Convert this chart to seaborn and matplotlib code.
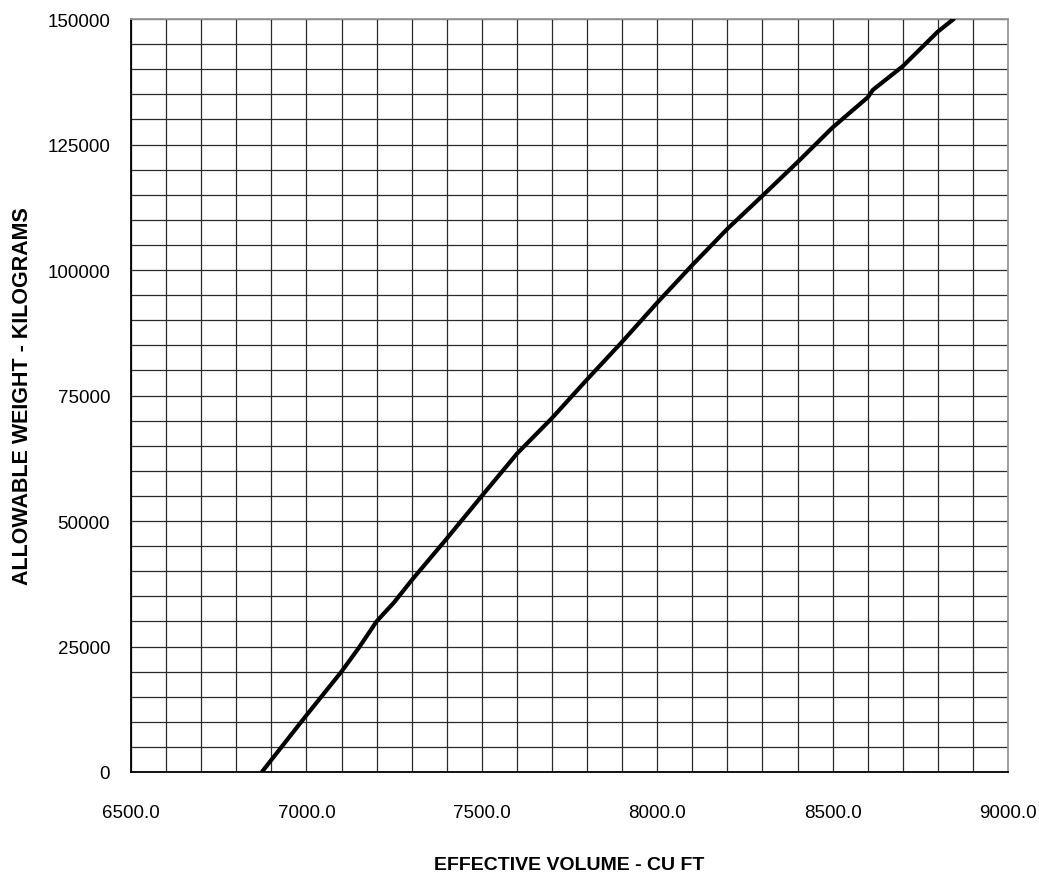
import matplotlib
matplotlib.use("Agg")
import matplotlib.pyplot as plt
from matplotlib.ticker import MultipleLocator, FormatStrFormatter
import numpy as np
import pandas as pd
import seaborn as sns

# Allowable weight vs. effective volume curve
volume_cuft = [6873, 7000, 7100, 7150, 7200, 7250, 7300, 7400, 7500, 7600,
               7700, 7800, 7900, 8000, 8100, 8200, 8300, 8400, 8500, 8600,
               8615, 8700, 8800, 8845]
weight_kg = [0, 11300, 20000, 24800, 30000, 33800, 38200, 46500, 55000, 63400,
             70500, 78200, 85700, 93500, 101000, 108200, 114800, 121500, 128400, 134400,
             135900, 140600, 147500, 150000]

x_label = "EFFECTIVE VOLUME - CU FT"
y_label = "ALLOWABLE WEIGHT - KILOGRAMS"

sns.set_style("white")
plt.rcParams["font.family"] = ["Liberation Sans", "DejaVu Sans"]
plt.rcParams["text.color"] = "black"
plt.rcParams["axes.labelcolor"] = "black"
plt.rcParams["xtick.color"] = "black"
plt.rcParams["ytick.color"] = "black"

df = pd.DataFrame({"volume": volume_cuft, "weight": weight_kg})

fig = plt.figure(figsize=(10.39, 8.79), dpi=100)
ax = fig.add_axes([0.1261, 0.1206, 0.8441, 0.8566])

sns.lineplot(data=df, x="volume", y="weight", ax=ax, color="black",
             linewidth=3.0, sort=False, estimator=None, zorder=5)

ax.set_xlim(6500, 9000)
ax.set_ylim(0, 150000)

ax.xaxis.set_major_locator(MultipleLocator(500))
ax.xaxis.set_minor_locator(MultipleLocator(100))
ax.yaxis.set_major_locator(MultipleLocator(25000))
ax.yaxis.set_minor_locator(MultipleLocator(5000))
ax.xaxis.set_major_formatter(FormatStrFormatter("%.1f"))
ax.yaxis.set_major_formatter(FormatStrFormatter("%d"))

ax.grid(True, which="both", color="#2a2a2a", linewidth=0.9)
ax.set_axisbelow(True)

ax.tick_params(axis="both", which="major", direction="out", length=6,
               width=1.0, color="black", labelcolor="black", labelsize=13.5)
ax.tick_params(axis="both", which="minor", length=0)
ax.tick_params(axis="x", pad=17)
ax.tick_params(axis="y", pad=9)

for side in ("left", "bottom"):
    ax.spines[side].set_color("black")
    ax.spines[side].set_linewidth(1.3)
for side in ("top", "right"):
    ax.spines[side].set_color("#999999")
    ax.spines[side].set_linewidth(1.3)

ax.set_xlabel(x_label, fontsize=14, fontweight="bold", va="center", color="black")
ax.set_ylabel(y_label, fontsize=15.5, fontweight="bold", va="center", color="black")
ax.xaxis.set_label_coords(0.5, -0.1222)
ax.yaxis.set_label_coords(-0.1243, 0.5)

fig.savefig("out.png", dpi=100, facecolor="white")
